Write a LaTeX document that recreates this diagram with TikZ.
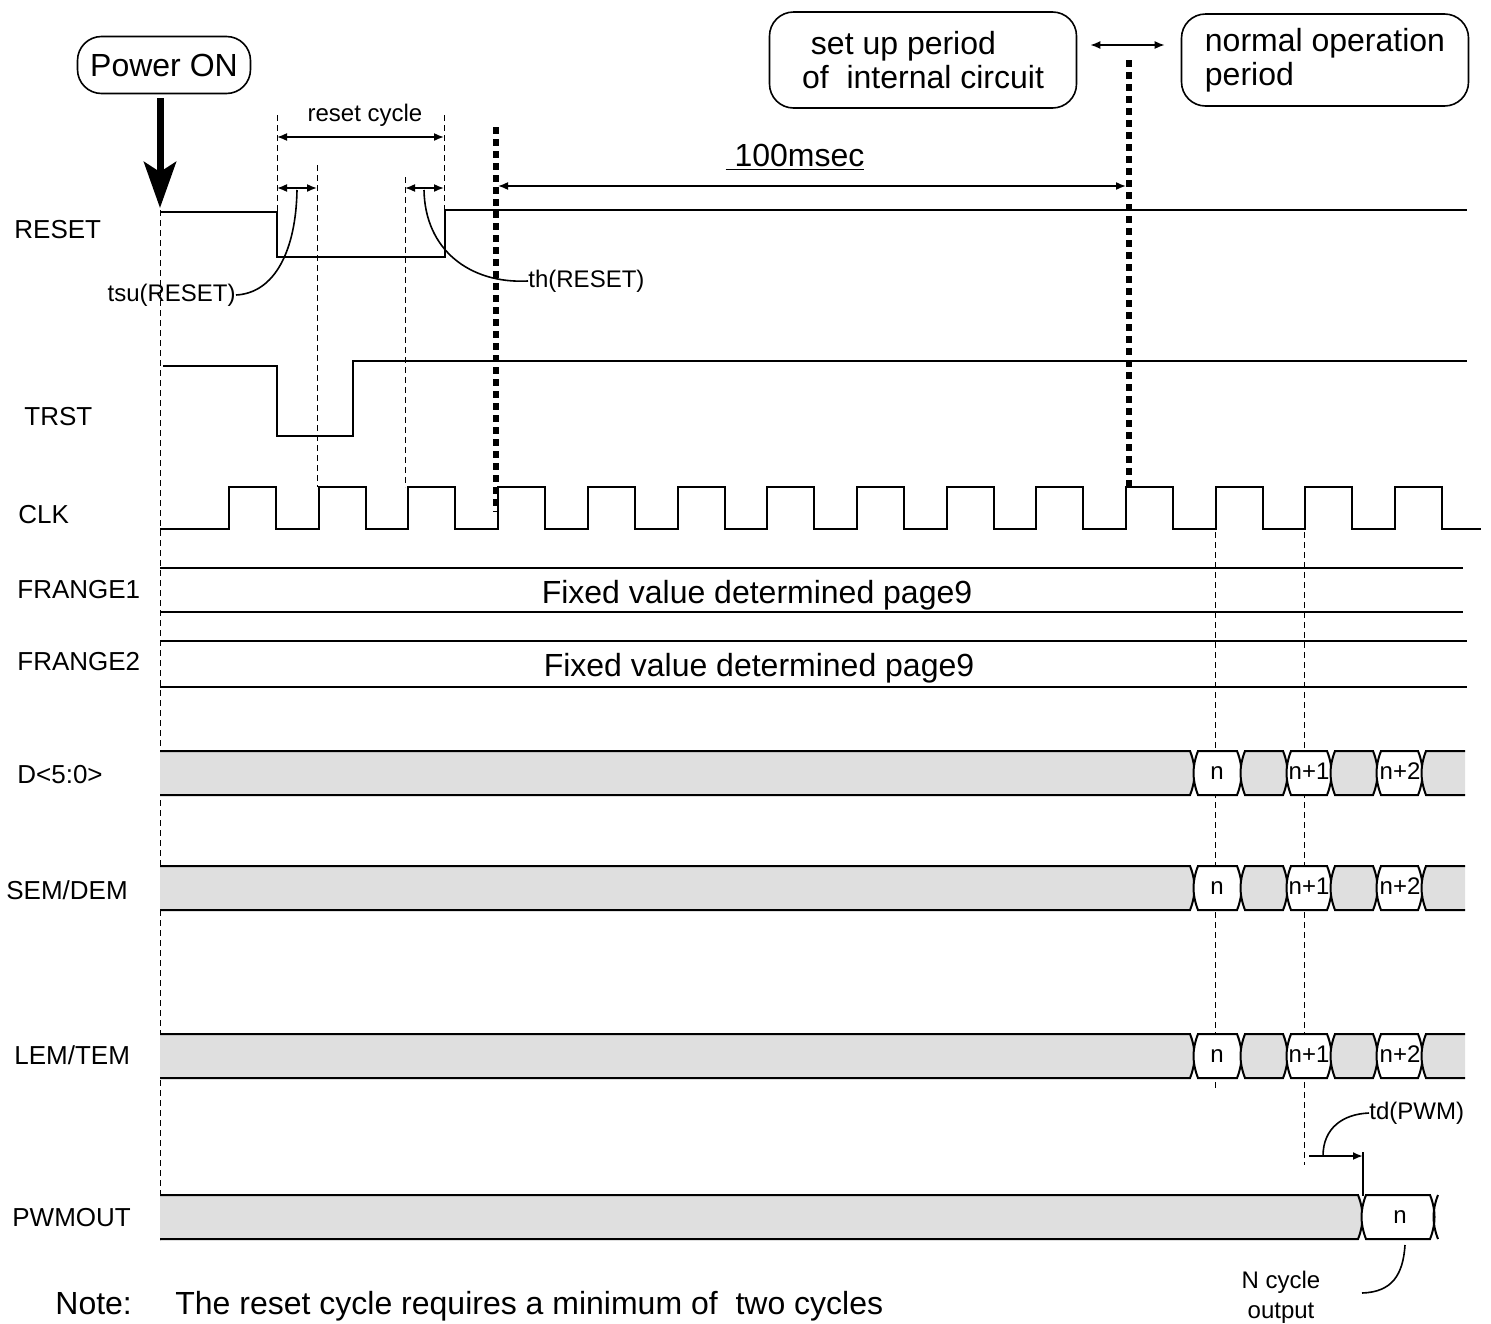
\documentclass[tikz,border=0pt]{standalone}
\usepackage{fontspec}
\setmainfont{Liberation Sans}
\usetikzlibrary{arrows.meta,positioning}

% bus pieces: lead (gray from power on), value box, tail
\newcommand{\buslead}[2]{% #1 right x, #2 top y
  \fill[busgray] (160,#2) -- (#1,#2) .. controls (#1+6,#2+15) and (#1+6,#2+29) .. (#1,#2+44) -- (160,#2+44) -- cycle;
  \draw[sig] (160,#2) -- (#1,#2) .. controls (#1+6,#2+15) and (#1+6,#2+29) .. (#1,#2+44) -- (160,#2+44);}
\newcommand{\busbox}[4]{% #1 left x, #2 right x, #3 top y, #4 fill
  \filldraw[sig, fill=#4] (#1,#3) -- (#2,#3) .. controls (#2+6,#3+15) and (#2+6,#3+29) .. (#2,#3+44)
    -- (#1,#3+44) .. controls (#1-6,#3+29) and (#1-6,#3+15) .. (#1,#3) -- cycle;}
\newcommand{\bustail}[2]{% #1 left x, #2 top y
  \fill[busgray] (#1,#2) -- (1465,#2) -- (1465,#2+44) -- (#1,#2+44) .. controls (#1-6,#2+29) and (#1-6,#2+15) .. (#1,#2) -- cycle;
  \draw[sig] (1465,#2) -- (#1,#2) .. controls (#1-6,#2+15) and (#1-6,#2+29) .. (#1,#2+44) -- (1465,#2+44);}

\begin{document}
\begin{tikzpicture}[x=0.5pt, y=-0.5pt, >={Latex[length=5pt,width=4pt]},
	sig/.style		= {line width=1pt},
	guide/.style	= {line width=0.5pt, dash pattern=on 3pt off 2pt},
	bigdots/.style	= {line width=3pt, dash pattern=on 3.5pt off 2.5pt},
	dim/.style		= {line width=0.8pt, <->},
	busgray/.style	= {fill=gray!25},
	lbl/.style		= {font=\fontsize{13}{15}\selectfont, anchor=west, inner sep=0pt},
	small/.style	= {font=\fontsize{12}{15}\selectfont, inner sep=0pt},
	val/.style		= {font=\fontsize{12}{15}\selectfont, inner sep=0pt, anchor=base},
	big/.style		= {font=\fontsize{16}{17}\selectfont, inner sep=0pt},
	period/.style	= {draw, line width=0.8pt, rounded corners=12pt, font=\fontsize{16}{17}\selectfont, align=left}]
\useasboundingbox (0,0) rectangle (1491,1323);

% time marks
\coordinate	(on)		at (160,208);
\coordinate	(rcA)	at (277,137);
\coordinate	(rcB)	at (444,137);
\coordinate	(suA)	at (277,188);
\coordinate	(suB)	at (317,188);
\coordinate	(hA)		at (405,188);
\coordinate	(hB)		at (444,188);
\coordinate	(msA)	at (498,186);
\coordinate	(msB)	at (1126,186);
\coordinate	(tdA)	at (1309,1156);
\coordinate	(tdB)	at (1363,1156);

% period boxes
\node[period, align=center, minimum width=86.5pt, minimum height=28.5pt]	(power)	at (164,65)		{Power ON};
\node[period, minimum width=153.5pt, minimum height=48pt]				(setup)	at (923,60)		{\ set up period\\of\ \ internal circuit};
\node[period, minimum width=143.5pt, minimum height=46pt]				(normal)	at (1325,60)	{normal operation\\period};

\draw[line width=3.5pt, -{Stealth[length=23pt,width=16pt,inset=5pt]}, shorten <=2pt] (power.south -| on) -- (on);
\draw[dim] ([xshift=6.5pt,yshift=7.5pt]setup.east) -- ([xshift=-8pt,yshift=7.5pt]normal.west);

% signal names
\node[lbl]	(nreset)	at (14,230)		{RESET};
\node[lbl]	(ntrst)	at (24,417)		{TRST};
\node[lbl]	(nclk)	at (18,515)		{CLK};
\node[lbl]	(nfr1)	at (17,590)		{FRANGE1};
\node[lbl]	(nfr2)	at (17,662)		{FRANGE2};
\node[lbl]	(nd)		at (17,775)		{D<5:0>};
\node[lbl]	(nsem)	at (6,890)		{SEM/DEM};
\node[lbl]	(nlem)	at (14,1055)		{LEM/TEM};
\node[lbl]	(npwm)	at (12,1218)		{PWMOUT};

% guide lines
\draw[guide] (160,210) -- (160,1240);
\draw[guide] (277,115) -- (277,212);
\draw[guide] (444,115) -- (444,210);
\draw[guide] (317,165) -- (317,487);
\draw[guide] (405,177) -- (405,487);
\draw[guide] (1215,532) -- (1215,1090);
\draw[guide] (1304,532) -- (1304,1165);
\draw[bigdots] (496,127) -- (496,512);
\draw[bigdots] (1129,60) -- (1129,490);

% reset timing
\draw[dim] (rcA) -- (rcB);
\node[small] (rclbl) at (365,115) {reset cycle};
\draw[dim] (suA) -- (suB);
\draw[dim] (hA) -- (hB);
\draw[dim] (msA) -- (msB);
\node[big] (ms) at (795,157) {\underline{\ 100msec}};
\node[small, anchor=east] (tsu) at (236,295) {tsu(RESET)};
\node[small, anchor=west] (th) at (528,281) {th(RESET)};
\draw[line width=0.8pt] (297,190) .. controls (296,250) and (275,293) .. (tsu.east);
\draw[line width=0.8pt] (424,190) .. controls (425,250) and (470,284) .. (th.west);

% waveforms
\draw[sig] (160,212) -- (277,212) -- (277,257) -- (445,257) -- (445,210) -- (1467,210);
\draw[sig] (163,366) -- (277,366) -- (277,436) -- (353,436) -- (353,361) -- (1467,361);
\draw[sig] (160,529) \foreach \k in {0,...,13} { -- ({229+89.7*\k},529) -- ++(0,-42) -- ++(47,0) -- ++(0,42) } -- (1481,529);

\draw[sig] (160,568) -- (1463,568) (160,612) -- (1463,612);
\draw[sig] (160,641) -- (1467,641) (160,687) -- (1467,687);
\node[big] (fix1) at (757,595) {Fixed value determined page9};
\node[big] (fix2) at (759,668) {Fixed value determined page9};

% bus rows
\foreach \t in {751,866,1034} {
  \buslead{1190}{\t}
  \busbox{1198}{1237}{\t}{white}
  \busbox{1245}{1283}{\t}{gray!25}
  \busbox{1291}{1327}{\t}{white}
  \busbox{1335}{1373}{\t}{gray!25}
  \busbox{1381}{1418}{\t}{white}
  \bustail{1426}{\t}
  \node[val] at (1217,\t+28) {n};
  \node[val] at (1309,\t+28) {n+1};
  \node[val] at (1400,\t+28) {n+2};
}

\buslead{1358}{1195}
\busbox{1366}{1430}{1195}{white}
\draw[sig] (1438,1195) .. controls (1432,1210) and (1432,1224) .. (1438,1239);
\node[val] (pwn) at (1400,1223) {n};

% PWM delay
\draw[sig, ->] (tdA) -- (tdB);
\draw[sig] (1363,1152) -- (1363,1196);
\node[small, anchor=west] (td) at (1369,1113) {td(PWM)};
\draw[line width=0.8pt] (1323,1156) .. controls (1323,1128) and (1343,1114) .. (td.west);
\node[small, align=center, font=\fontsize{12}{15}\selectfont] (ncyc) at (1281,1297) {N cycle\\output};
\draw[line width=0.8pt] (1405,1245) .. controls (1403,1275) and (1392,1292) .. (1362,1293);

% note
\node[big, anchor=base west] (note) at (55,1314) {Note:};
\node[big, anchor=base west] (notetxt) at (175,1314) {The reset cycle requires a minimum of\ \ two cycles};
\end{tikzpicture}
\end{document}
